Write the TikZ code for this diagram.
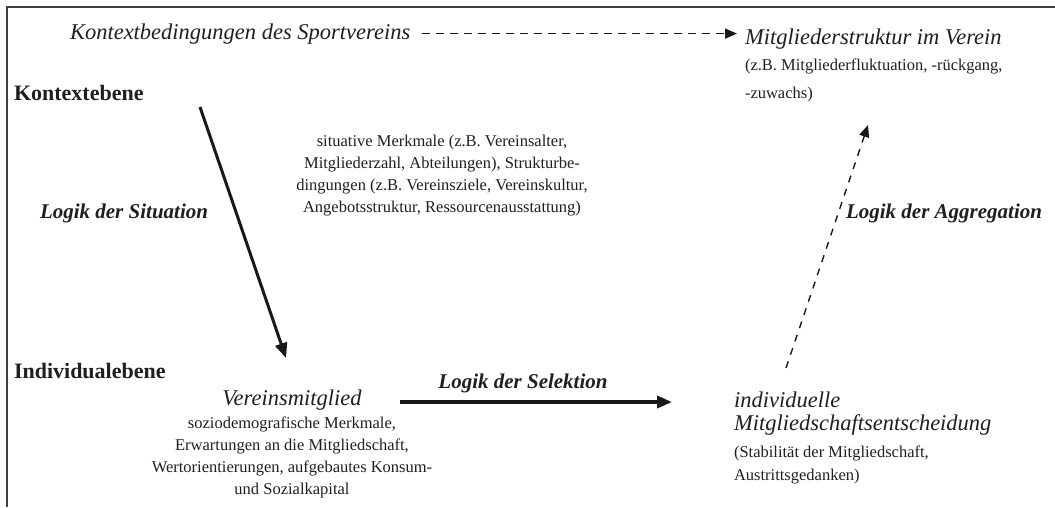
\documentclass[tikz,border=0pt]{standalone}
\usepackage{fontspec}
\setmainfont{Liberation Serif}
\usetikzlibrary{arrows.meta}
\tikzset{
 lbl/.style={inner sep=0pt, outer sep=0pt, text=black!88},
 body/.style={lbl, font=\fontsize{16.5}{22}\selectfont},
 ital/.style={lbl, font=\fontsize{22.5}{23.5}\selectfont\itshape},
 level/.style={lbl, font=\fontsize{22}{26}\selectfont\bfseries},
 logic/.style={lbl, font=\fontsize{21}{25}\selectfont\bfseries\itshape},
 solidarrow/.style={line width=3pt, draw=black!90, -{Triangle[length=15pt,width=12pt]}},
 dasharrow/.style={line width=1.6pt, draw=black!90, dash pattern=on 8pt off 6pt, -{Triangle[length=12pt,width=10pt]}},
 frame/.style={line width=1.2pt, draw=black!75}
}
\begin{document}
\begin{tikzpicture}[x=1pt,y=-1pt]
\useasboundingbox (0,0) rectangle (1055,507);
\draw[frame] (7,507) -- (7,7) -- (1055,7);

\node[ital, anchor=base west] (ctx) at (70,39) {Kontextbedingungen des Sportvereins};
\node[ital, anchor=base west] (struct) at (745,44) {Mitgliederstruktur im Verein};
\node[body, font=\fontsize{16.5}{28}\selectfont, align=left, anchor=north west] (structd) at (745,58.5) {(z.B. Mitgliederfluktuation, -rückgang,\\-zuwachs)};

\node[level, anchor=base west] (kontext) at (14,100) {Kontextebene};
\node[level, anchor=base west] (indiv) at (14,378) {Individualebene};

\node[logic, anchor=base west] (lsit) at (40,218) {Logik der Situation};
\node[body, align=center, anchor=north] (sit) at (442,135.5) {situative Merkmale (z.B. Vereinsalter,\\Mitgliederzahl, Abteilungen), Strukturbe-\\dingungen (z.B. Vereinsziele, Vereinskultur,\\Angebotsstruktur, Ressourcenausstattung)};

\node[ital, anchor=base] (mem) at (292,405) {Vereinsmitglied};
\node[body, align=center, anchor=north] (memd) at (292,416.5) {soziodemografische Merkmale,\\Erwartungen an die Mitgliedschaft,\\Wertorientierungen, aufgebautes Konsum-\\und Sozialkapital};

\node[ital, align=left, anchor=north west] (dec) at (734,391.5) {individuelle\\Mitgliedschaftsentscheidung};
\node[body, font=\fontsize{16.5}{23}\selectfont, align=left, anchor=north west] (decd) at (734,445.5) {(Stabilität der Mitgliedschaft,\\Austrittsgedanken)};

\node[logic, anchor=base] (lsel) at (523,388) {Logik der Selektion};
\node[logic, anchor=base west] (lagg) at (846,218) {Logik der Aggregation};

\coordinate (s1) at (200,107);
\coordinate (s2) at (286,358);
\coordinate (e1) at (400,402);
\coordinate (e2) at (672,402);
\coordinate (a1) at (786,368);
\coordinate (a2) at (868,125);

\draw[dasharrow] ([xshift=12pt]ctx.east) -- ([xshift=-8pt]ctx.east -| struct.west);
\draw[solidarrow] (s1) -- (s2);
\draw[solidarrow, line width=3.6pt] (e1) -- (e2);
\draw[dasharrow, line width=1.4pt, dash pattern=on 7pt off 7pt] (a1) -- (a2);
\end{tikzpicture}
\end{document}
